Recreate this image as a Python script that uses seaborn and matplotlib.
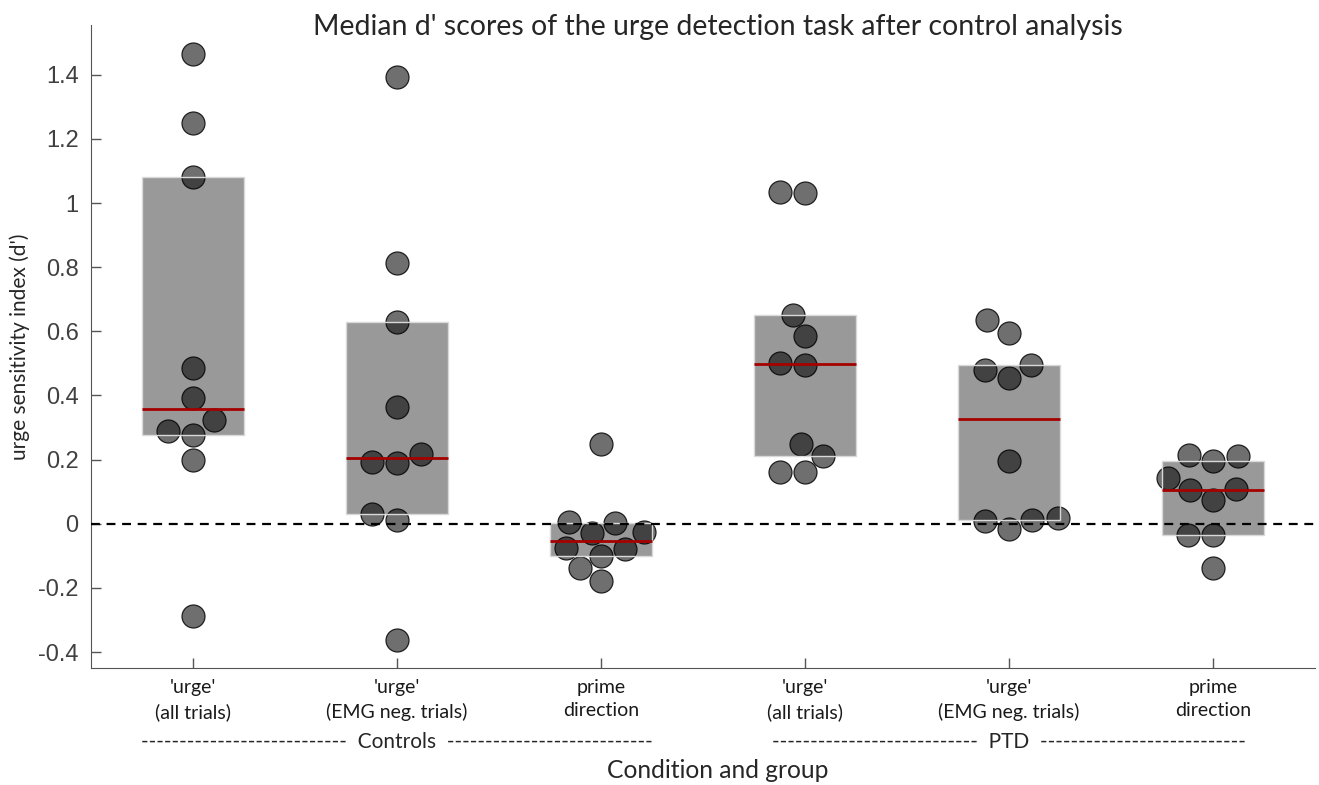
import numpy as np
import pandas as pd
import seaborn as sns
import matplotlib.pyplot as plt

# condition keys (left to right) and their tick labels
cond_keys = ['c_urge_all', 'c_urge_emg', 'c_prime', 'p_urge_all', 'p_urge_emg', 'p_prime']
tick_labels = ["'urge'\n(all trials)", "'urge'\n(EMG neg. trials)", "prime\ndirection",
               "'urge'\n(all trials)", "'urge'\n(EMG neg. trials)", "prime\ndirection"]
group_labels = ['Controls', 'PTD']

# d' values per participant
ctrl_urge_all = [1.466, 1.249, 1.081, 0.485, 0.392, 0.322, 0.288, 0.278, 0.198, -0.287]
ctrl_urge_emg = [1.394, 0.813, 0.628, 0.364, 0.216, 0.191, 0.190, 0.031, 0.012, -0.363]
ctrl_prime = [0.248, 0.005, 0.002, -0.026, -0.030, -0.075, -0.078, -0.100, -0.138, -0.178]
ptd_urge_all = [1.034, 1.030, 0.652, 0.586, 0.501, 0.494, 0.249, 0.212, 0.160, 0.160]
ptd_urge_emg = [0.634, 0.595, 0.496, 0.478, 0.456, 0.197, 0.018, 0.012, 0.008, -0.017]
ptd_prime = [0.215, 0.210, 0.195, 0.142, 0.108, 0.104, 0.075, -0.034, -0.036, -0.138]

yticks = [-0.4, -0.2, 0, 0.2, 0.4, 0.6, 0.8, 1, 1.2, 1.4]

all_vals = [ctrl_urge_all, ctrl_urge_emg, ctrl_prime, ptd_urge_all, ptd_urge_emg, ptd_prime]
df = pd.DataFrame({
    'cond': np.repeat(cond_keys, [len(v) for v in all_vals]),
    'dprime': np.concatenate(all_vals),
})

sns.set_style('ticks')
plt.rcParams['font.family'] = ['Lato', 'DejaVu Sans']

fig = plt.figure(figsize=(13.19, 7.85), dpi=100)
ax = fig.add_axes([0.069, 0.149, 0.928, 0.819])

sns.swarmplot(data=df, x='cond', y='dprime', order=cond_keys, ax=ax,
              color='#6f6f6f', edgecolor='#1e1e1e', linewidth=0.9, size=16.5, zorder=2)

# interquartile boxes + medians (prctile-style quartiles)
q1 = [np.percentile(v, 25, method='hazen') for v in all_vals]
q3 = [np.percentile(v, 75, method='hazen') for v in all_vals]
med = [np.median(v) for v in all_vals]
xs = np.arange(len(cond_keys))
ax.bar(xs, np.array(q3) - np.array(q1), bottom=q1, width=0.5,
       facecolor=(0, 0, 0, 0.4), edgecolor='#d9d9d9', linewidth=1.0, zorder=3)
ax.hlines(med, xs - 0.25, xs + 0.25, color='#a50000', linewidth=2, zorder=4)

ax.axhline(0, color='black', linestyle=(0, (4, 3)), linewidth=1.6, zorder=5)

ax.set_xlim(-0.5, 5.5)
ax.set_ylim(-0.45, 1.555)
ax.set_yticks(yticks)
ax.set_yticklabels([f'{t:g}' for t in yticks], family=['Liberation Sans', 'DejaVu Sans'],
                   fontsize=17, color='#404040')
ax.set_xticks(xs)
ax.set_xticklabels(tick_labels, fontsize=14, linespacing=1.45, color='#1a1a1a')
ax.tick_params(direction='in', length=7, color='#555555', width=1)
ax.tick_params(axis='x', pad=8)
ax.tick_params(axis='y', pad=9)
sns.despine(ax=ax)
for s in ['left', 'bottom']:
    ax.spines[s].set_color('#555555')

ax.set_ylabel("urge sensitivity index (d')", fontsize=15, labelpad=6)
ax.set_xlabel('')

dash = '-' * 27
trans = ax.get_xaxis_transform()
for gi, name in enumerate(group_labels):
    ax.text(1 + 3 * gi, -0.115, f'{dash}  {name}  {dash}', transform=trans,
            ha='center', va='center', fontsize=15)

fig.text(0.544, 0.018, 'Condition and group', ha='center', va='center', fontsize=17.7)
fig.text(0.544, 0.965, "Median d' scores of the urge detection task after control analysis",
         ha='center', va='center', fontsize=20.5)

fig.savefig('out.png', dpi=100)
